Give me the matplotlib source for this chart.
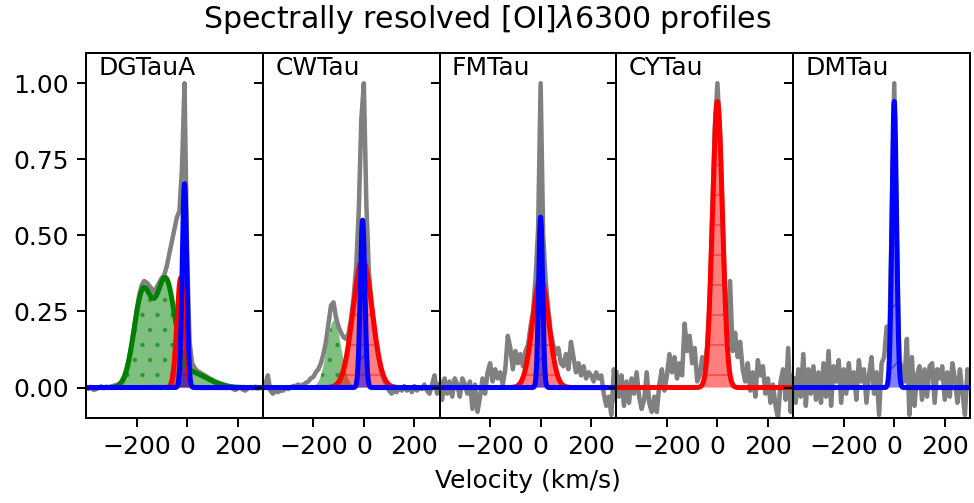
import numpy as np
import matplotlib
matplotlib.use("Agg")
import matplotlib.pyplot as plt

plt.rcParams['hatch.linewidth'] = 0.6

# Targets, one panel each
targets = ['DGTauA', 'CWTau', 'FMTau', 'CYTau', 'DMTau']

# Velocity grid of the normalised spectra (km/s), -400 ... 300
velocity = np.arange(-400, 301, 10)

# Normalised [OI] 6300 profiles
flux_dgtaua = [0.003, -0.004, 0.002, -0.008, -0.005, 0.000, 0.004, -0.002, 0.003, 0.000,
               0.004, 0.006, 0.008, 0.012, 0.020, 0.035, 0.060, 0.095, 0.140, 0.195,
               0.250, 0.300, 0.335, 0.350, 0.345, 0.335, 0.325, 0.310, 0.330, 0.345,
               0.360, 0.370, 0.400, 0.440, 0.480, 0.520, 0.560, 0.580, 0.720, 1.000,
               0.450, 0.150, 0.080, 0.065, 0.055, 0.050, 0.045, 0.040, 0.035, 0.030,
               0.026, 0.020, 0.018, 0.014, 0.012, 0.008, 0.006, 0.002, -0.003, -0.008,
               -0.004, 0.000, -0.006, -0.010, -0.004, 0.002, -0.002, 0.003, -0.003, 0.001,
               0.000]
flux_cwtau = [0.000, 0.010, 0.040, -0.010, -0.020, -0.010, -0.015, -0.010, -0.010, 0.000,
              -0.005, 0.000, 0.005, 0.005, 0.010, 0.005, 0.010, 0.015, 0.020, 0.030,
              0.035, 0.050, 0.060, 0.080, 0.110, 0.150, 0.210, 0.270, 0.280, 0.230,
              0.200, 0.180, 0.165, 0.160, 0.180, 0.230, 0.300, 0.400, 0.580, 0.880,
              1.000, 0.600, 0.380, 0.280, 0.200, 0.140, 0.090, 0.050, 0.025, 0.005,
              -0.010, -0.020, -0.010, -0.015, 0.000, -0.010, 0.005, -0.010, 0.000, -0.015,
              0.005, -0.010, 0.000, -0.005, 0.010, -0.010, -0.020, 0.010, 0.040, -0.020,
              0.010]
flux_fmtau = [0.02, -0.04, 0.03, -0.02, 0.02, -0.03, 0.03, 0.01, -0.03, 0.03,
              0.01, -0.02, 0.02, -0.07, 0.01, -0.08, -0.03, 0.03, -0.02, 0.05,
              0.08, 0.02, 0.06, 0.03, 0.05, 0.01, 0.06, 0.17, 0.13, 0.06,
              0.12, 0.08, 0.11, 0.07, 0.12, 0.14, 0.20, 0.25, 0.36, 0.52,
              1.00, 0.50, 0.35, 0.26, 0.18, 0.14, 0.11, 0.13, 0.08, 0.07,
              0.11, 0.06, 0.15, 0.10, 0.05, 0.08, 0.04, 0.07, 0.03, 0.05,
              0.04, 0.02, 0.05, 0.03, 0.04, -0.02, -0.06, -0.03, -0.09, 0.06,
              -0.04]
flux_cytau = [0.05, -0.03, 0.04, -0.06, 0.02, -0.05, 0.03, -0.02, 0.05, -0.03,
              -0.07, -0.04, 0.05, -0.05, -0.08, -0.03, -0.08, 0.01, 0.06, -0.01,
              0.04, 0.11, 0.05, 0.10, 0.03, 0.08, 0.04, 0.21, 0.12, 0.17,
              0.08, 0.13, 0.02, 0.04, 0.10, 0.06, 0.14, 0.30, 0.58, 0.86,
              1.00, 0.84, 0.56, 0.30, 0.15, 0.35, 0.12, 0.18, 0.10, 0.15,
              0.06, 0.02, 0.08, -0.01, 0.05, -0.03, 0.09, 0.04, 0.07, -0.02,
              0.03, -0.05, 0.01, -0.06, -0.10, 0.02, 0.06, -0.04, 0.13, -0.08,
              0.04]
flux_dmtau = [0.03, -0.05, 0.06, -0.03, 0.11, -0.06, 0.06, -0.02, 0.07, -0.04,
              0.05, -0.05, 0.08, -0.03, 0.12, -0.06, 0.07, 0.02, 0.09, -0.05,
              0.06, -0.02, 0.08, 0.00, 0.05, -0.04, 0.09, 0.02, 0.06, -0.05,
              0.04, 0.10, -0.02, 0.05, -0.09, 0.08, 0.10, 0.20, 0.12, 0.55,
              1.00, 0.50, 0.10, 0.05, 0.02, 0.16, -0.09, 0.10, -0.06, 0.04,
              0.07, -0.04, 0.06, -0.03, 0.07, 0.08, -0.05, 0.06, 0.03, 0.07,
              -0.04, 0.05, -0.03, 0.08, 0.03, -0.05, 0.06, -0.02, -0.09, 0.06,
              0.01]
spectra = [flux_dgtaua, flux_cwtau, flux_fmtau, flux_cytau, flux_dmtau]

# Gaussian fit components: (amplitude, centre [km/s], sigma [km/s])
hvc_fits = [[(0.31, -175, 35), (0.33, -85, 36), (0.05, 10, 70)],
            [(0.22, -118, 28)], [], [], []]
bc_fits = [[(0.36, -25, 15)], [(0.42, -5, 38)], [(0.36, 0, 32)],
           [(0.94, 0, 20)], []]
nc_fits = [[(0.67, -10, 9)], [(0.55, -5, 9)], [(0.56, 0, 8)],
           [], [(0.94, 0, 9)]]

vfit = np.linspace(-400, 300, 1401)


def gauss_sum(v, comps):
    total = np.zeros_like(v)
    for amp, cen, sig in comps:
        total += amp * np.exp(-0.5 * ((v - cen) / sig) ** 2)
    return total


fig, axes = plt.subplots(1, 5, sharey=True, figsize=(974 / 180, 503 / 180), dpi=180)
fig.subplots_adjust(left=0.0883, right=0.9959, bottom=0.169, top=0.895, wspace=0)

for ax, name, flux, hvc, bc, nc in zip(axes, targets, spectra, hvc_fits, bc_fits, nc_fits):
    ax.plot(velocity, flux, color='gray', lw=1.8)

    # high velocity component (green, dotted)
    if hvc:
        model = gauss_sum(vfit, hvc)
        ax.fill_between(vfit, 0, model, color='g', alpha=0.5, hatch='..', lw=0)
        # outline the summed HVC when it has several Gaussians
        if len(hvc) > 1:
            ax.plot(vfit, model, color='g', lw=2)

    # broad component (red)
    if bc:
        model = gauss_sum(vfit, bc)
        ax.fill_between(vfit, 0, model, color='r', alpha=0.5, hatch='-', lw=0)
        ax.plot(vfit, model, color='r', lw=2)

    # narrow component (blue)
    if nc:
        model = gauss_sum(vfit, nc)
        ax.fill_between(vfit, 0, model, color='b', alpha=0.5, hatch='/', lw=0)
        ax.plot(vfit, model, color='b', lw=2)

    ax.text(0.07, 0.99, name, transform=ax.transAxes, va='top', fontsize=10)
    ax.set_xlim(-400, 300)
    ax.set_xticks([-200, 0, 200])

axes[0].set_ylim(-0.1, 1.1)
axes[0].set_yticks([0, 0.25, 0.5, 0.75, 1.0])
axes[2].set_xlabel('Velocity (km/s)')
fig.suptitle(r'Spectrally resolved [OI]$\lambda$6300 profiles', fontsize=12, y=0.995)

fig.savefig('out.png', dpi=180)
